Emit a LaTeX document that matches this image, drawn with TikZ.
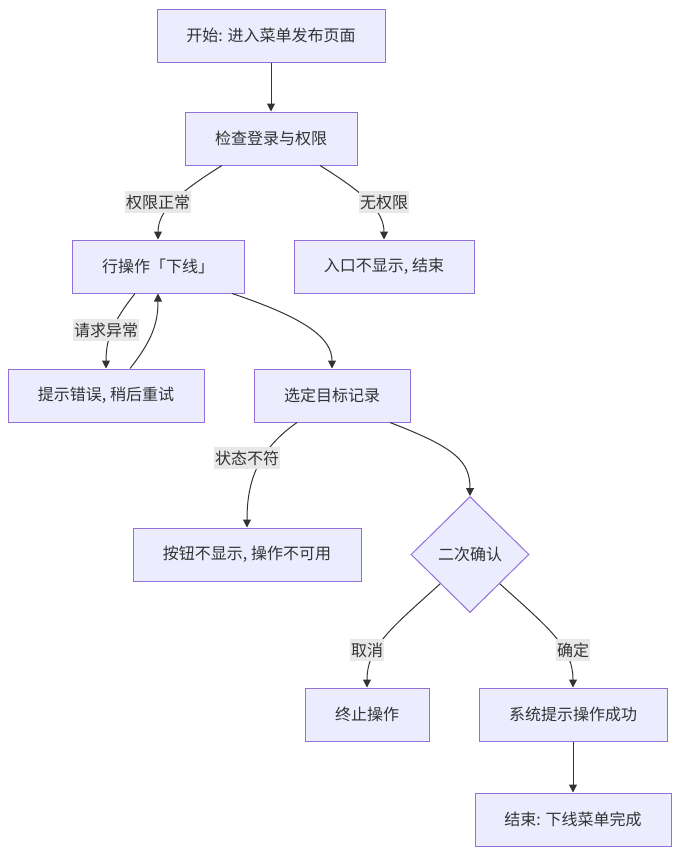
\documentclass[tikz,border=0pt]{standalone}
\usepackage{fontspec}
\setmainfont{Noto Sans CJK SC}
\usetikzlibrary{shapes.geometric,arrows.meta}
\definecolor{boxfill}{HTML}{ECECFF}
\definecolor{boxline}{HTML}{9370DB}
\definecolor{edgeline}{HTML}{333333}
\definecolor{lblbg}{HTML}{E8E8E8}
\definecolor{txt}{HTML}{333333}
\begin{document}
\begin{tikzpicture}[x=1pt,y=-1pt,
  box/.style={draw=boxline,fill=boxfill,line width=1pt,minimum height=53pt,inner sep=0pt,font=\fontsize{16}{19}\selectfont,text=txt},
  dec/.style={shape=diamond,draw=boxline,fill=boxfill,line width=1pt,minimum width=118pt,minimum height=116pt,inner sep=0pt,font=\fontsize{16}{19}\selectfont,text=txt},
  lbl/.style={fill=lblbg,inner xsep=1pt,inner ysep=4pt,font=\fontsize{16}{19}\selectfont,text=txt},
  edge/.style={draw=edgeline,line width=1pt,-{Triangle[length=8pt,width=8pt]}}]
\useasboundingbox (0,0) rectangle (679,854);
\node[box,minimum width=228pt] (n1) at (271,35.5) {开始: 进入菜单发布页面};
\node[box,minimum width=172pt] (n2) at (271,138.5) {检查登录与权限};
\node[box,minimum width=172pt] (n3) at (158,266.5) {行操作「下线」};
\node[box,minimum width=180pt] (n4) at (384,266.5) {入口不显示, 结束};
\node[box,minimum width=196pt] (n5) at (106,395.5) {提示错误, 稍后重试};
\node[box,minimum width=156pt] (n6) at (332,395.5) {选定目标记录};
\node[box,minimum width=228pt] (n7) at (247,554.5) {按钮不显示, 操作不可用};
\node[dec] (n8) at (470,554.5) {二次确认};
\node[box,minimum width=124pt] (n9) at (367,714.5) {终止操作};
\node[box,minimum width=188pt] (n10) at (573,714.5) {系统提示操作成功};
\node[box,minimum width=196pt] (n11) at (573,819.5) {结束: 下线菜单完成};

\draw[edge] (n1) -- (n2);
\draw[edge] ([xshift=-49pt]n2.south) .. controls +(-40,25) and +(0,-30) .. (n3.north);
\draw[edge] ([xshift=49pt]n2.south) .. controls +(40,25) and +(0,-30) .. (n4.north);
\draw[edge] ([xshift=-23pt]n3.south) .. controls +(-22,28) and +(0,-30) .. (n5.north);
\draw[edge] ([xshift=24pt]n5.north) .. controls +(22,-28) and +(0,30) .. (n3.south);
\draw[edge] ([xshift=74pt]n3.south) .. controls +(75,25) and +(0,-30) .. (n6.north);
\draw[edge] ([xshift=-35pt]n6.south) .. controls +(-40,28) and +(0,-45) .. (n7.north);
\draw[edge] ([xshift=58pt]n6.south) .. controls +(65,25) and +(0,-35) .. (n8.north);
\draw[edge] (n8.south west) .. controls +(-50,45) and +(0,-40) .. (n9.north);
\draw[edge] (n8.south east) .. controls +(50,45) and +(0,-40) .. (n10.north);
\draw[edge] (n10) -- (n11);

\node[lbl] (l1) at (158,202) {权限正常};
\node[lbl] (l2) at (384,202) {无权限};
\node[lbl] (l3) at (106,330) {请求异常};
\node[lbl] (l4) at (247,458) {状态不符};
\node[lbl] (l5) at (367,650) {取消};
\node[lbl] (l6) at (573,650) {确定};
\end{tikzpicture}
\end{document}
